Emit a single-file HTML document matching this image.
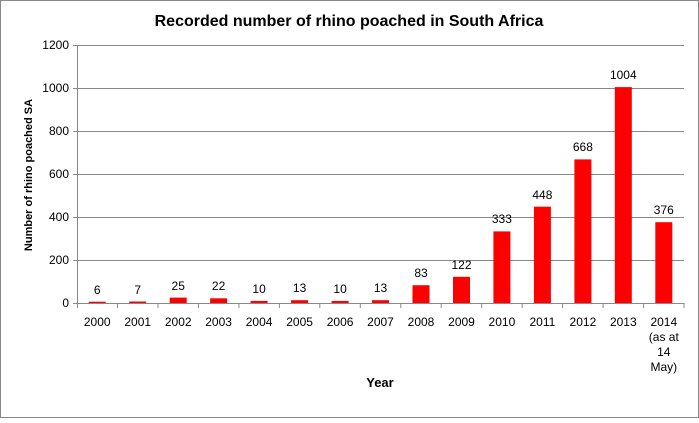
<!DOCTYPE html>
<html><head><style>body{margin:0;background:#fff}</style></head><body>
<svg width="699" height="418" xmlns="http://www.w3.org/2000/svg" font-family="Liberation Sans, sans-serif">
<rect x="0.5" y="0.5" width="698" height="417" fill="#fff" stroke="#888"/>
<text x="349" y="26" text-anchor="middle" font-size="16" font-weight="bold">Recorded number of rhino poached in South Africa</text>
<g stroke="#888" stroke-width="1">
<line x1="73" y1="45.5" x2="684" y2="45.5"/>
<line x1="73" y1="88.5" x2="684" y2="88.5"/>
<line x1="73" y1="131.5" x2="684" y2="131.5"/>
<line x1="73" y1="174.5" x2="684" y2="174.5"/>
<line x1="73" y1="217.5" x2="684" y2="217.5"/>
<line x1="73" y1="260.5" x2="684" y2="260.5"/>
<line x1="73" y1="303.5" x2="684" y2="303.5"/>
<line x1="77.5" y1="45" x2="77.5" y2="308"/>
<line x1="117.5" y1="303" x2="117.5" y2="308"/>
<line x1="158" y1="303" x2="158" y2="308"/>
<line x1="198.4" y1="303" x2="198.4" y2="308"/>
<line x1="238.9" y1="303" x2="238.9" y2="308"/>
<line x1="279.4" y1="303" x2="279.4" y2="308"/>
<line x1="319.8" y1="303" x2="319.8" y2="308"/>
<line x1="360.3" y1="303" x2="360.3" y2="308"/>
<line x1="400.8" y1="303" x2="400.8" y2="308"/>
<line x1="441.2" y1="303" x2="441.2" y2="308"/>
<line x1="481.7" y1="303" x2="481.7" y2="308"/>
<line x1="522.2" y1="303" x2="522.2" y2="308"/>
<line x1="562.6" y1="303" x2="562.6" y2="308"/>
<line x1="603.1" y1="303" x2="603.1" y2="308"/>
<line x1="643.6" y1="303" x2="643.6" y2="308"/>
<line x1="684" y1="303" x2="684" y2="308"/>
</g>
<g font-size="12" text-anchor="end">
<text x="69" y="49">1200</text><text x="69" y="92">1000</text><text x="69" y="135">800</text>
<text x="69" y="178">600</text><text x="69" y="221">400</text><text x="69" y="264">200</text><text x="69" y="307">0</text>
</g>
<g fill="#ff0000">
<rect x="88.7" y="301.7" width="17" height="1.3"/>
<rect x="129.2" y="301.5" width="17" height="1.5"/>
<rect x="169.7" y="297.6" width="17" height="5.4"/>
<rect x="210.1" y="298.3" width="17" height="4.7"/>
<rect x="250.6" y="300.9" width="17" height="2.1"/>
<rect x="291.1" y="300.2" width="17" height="2.8"/>
<rect x="331.6" y="300.9" width="17" height="2.1"/>
<rect x="372" y="300.2" width="17" height="2.8"/>
<rect x="412.5" y="285.2" width="17" height="17.8"/>
<rect x="453" y="276.8" width="17" height="26.2"/>
<rect x="493.4" y="231.4" width="17" height="71.6"/>
<rect x="533.9" y="206.7" width="17" height="96.3"/>
<rect x="574.4" y="159.4" width="17" height="143.6"/>
<rect x="614.8" y="87.1" width="17" height="215.9"/>
<rect x="655.3" y="222.2" width="17" height="80.8"/>
</g>
<g font-size="12" text-anchor="middle">
<text x="97.2" y="294">6</text>
<text x="137.7" y="294">7</text>
<text x="178.2" y="290">25</text>
<text x="218.6" y="290">22</text>
<text x="259.1" y="293">10</text>
<text x="299.6" y="292">13</text>
<text x="340.1" y="293">10</text>
<text x="380.5" y="292">13</text>
<text x="421" y="277">83</text>
<text x="461.5" y="269">122</text>
<text x="501.9" y="223">333</text>
<text x="542.4" y="199">448</text>
<text x="582.9" y="151">668</text>
<text x="623.3" y="79">1004</text>
<text x="663.8" y="214">376</text>
<text x="97.2" y="326">2000</text>
<text x="137.7" y="326">2001</text>
<text x="178.2" y="326">2002</text>
<text x="218.6" y="326">2003</text>
<text x="259.1" y="326">2004</text>
<text x="299.6" y="326">2005</text>
<text x="340.1" y="326">2006</text>
<text x="380.5" y="326">2007</text>
<text x="421" y="326">2008</text>
<text x="461.5" y="326">2009</text>
<text x="501.9" y="326">2010</text>
<text x="542.4" y="326">2011</text>
<text x="582.9" y="326">2012</text>
<text x="623.3" y="326">2013</text>
<text x="663.8" y="326">2014</text>
<text x="663.8" y="341">(as at</text>
<text x="663.8" y="356">14</text>
<text x="663.8" y="371">May)</text>
</g>
<text x="380" y="387" text-anchor="middle" font-size="13" font-weight="bold">Year</text>
<text transform="translate(32,175) rotate(-90)" text-anchor="middle" font-size="11" font-weight="bold">Number of rhino  poached SA</text>
</svg>
</body></html>
